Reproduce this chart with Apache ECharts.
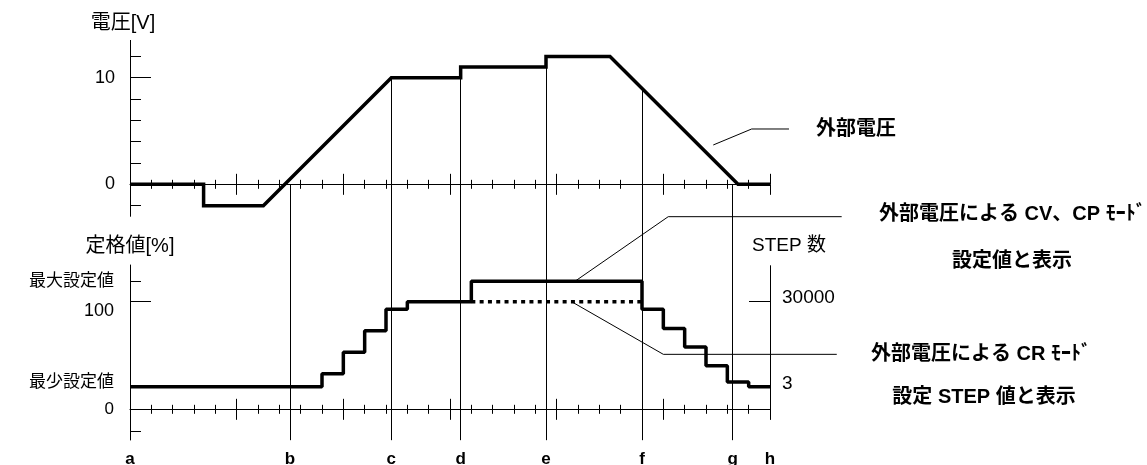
<!DOCTYPE html>
<html>
<head>
<meta charset="utf-8">
<title>外部電圧と設定値</title>
<script src="https://cdn.jsdelivr.net/npm/echarts@6/dist/echarts.min.js"></script>
<style>
  html, body { margin: 0; padding: 0; background: #fff; }
  #chart { width: 1147px; height: 465px; }
</style>
</head>
<body>
<div id="chart"></div>
<script>
// ---- data (横軸は目盛 1 つ = 1) ----
const xMinorTicks = [1, 2, 3, 4, 6, 7, 8, 9, 11, 12, 13, 14, 16, 17, 18, 19, 21, 22, 23, 24, 26, 27, 28, 29];
const xMajorTicks = [5, 10, 15, 20, 25, 30];

// 外部電圧 [V]
const voltageX = [0, 3.45, 3.45, 6.25, 12.25, 15.5, 15.5, 19.5, 19.5, 22.5, 28.5, 30];
const voltageV = [0, 0, -2, -2, 10, 10, 11, 11, 12, 12, 0, 0];
const voltTickShort = [-2, 2, 4, 6, 8, 12];
const voltTickLong = [10];
const voltLabels = [0, 10];

// 定格値 [%]
const maxSetting = 119;
const minSetting = 21;
const stepX = [0, 9, 10, 11, 12, 13, 16, 24, 25, 26, 27, 28, 29, 30];
const stepPct = [21, 33, 53, 73, 93, 100, 119, 93, 75, 58, 40.5, 25.5, 21, 21];
const crX = [16, 24];
const crPct = [100, 100];
const pctTickShort = [119, -20];
const pctTickLong = [100];
const pctLabelValues = [119, 100, 21, 0];
const pctLabelTexts = ['最大設定値', '100', '最少設定値', '0'];

// STEP 数
const stepTickValues = [30000];
const stepLabelValues = [30000, 3];

// 区間記号
const markerNames = ['a', 'b', 'c', 'd', 'e', 'f', 'g', 'h'];
const markerX = [0, 7.5, 12.25, 15.5, 19.5, 24, 28.25, 30];
const markerTopV = [null, 0, 10, 11, 12, 9, 0, null];

// 引き出し線 (データ座標)
const leaderVolt = [[27.34, 3.69], [29.14, 5.19], [30.89, 5.19]];
const leaderCV = [[20.86, 119], [25.23, 179], [33.36, 179]];
const leaderCR = [[20.7, 100], [25.0, 51.1], [33.13, 51.1]];

// ---- layout ----
const FONT = '"Liberation Sans", "Noto Sans CJK JP", sans-serif';
const refLineBottomV = -24; // 下段グラフの下端まで
const black = { color: '#000', width: 1 };

const chart = echarts.init(document.getElementById('chart'));

function xAxisOf(gridIndex, onZeroY, ticks, inside, len, showLine) {
  return {
    type: 'value', gridIndex: gridIndex, min: 0, max: 30, position: 'bottom',
    axisLine: { show: showLine, onZero: true, onZeroAxisIndex: onZeroY, lineStyle: black },
    axisTick: { show: true, customValues: ticks, inside: inside, length: len, lineStyle: black },
    axisLabel: { show: false },
    splitLine: { show: false }
  };
}

const labelStyle = { color: '#000', fontSize: 17, fontFamily: FONT };
const nameStyle = { color: '#000', fontSize: 20, fontFamily: FONT };
const noteFont = 'bold 20px ' + FONT;

function note(text, x, y, align) {
  return {
    type: 'text', x: x, y: y,
    style: { text: text, fill: '#000', font: noteFont, align: align, verticalAlign: 'middle', textAlign: align, textVerticalAlign: 'middle' }
  };
}

const option = {
  animation: false,
  backgroundColor: '#fff',
  textStyle: { fontFamily: FONT },
  grid: [
    { left: 130, right: 377, top: 40.4, height: 175.9, outerBoundsMode: 'none' },
    { left: 130, right: 377, top: 265, height: 175, outerBoundsMode: 'none' },
    { left: 130, right: 377, top: 265.7, height: 153.3, outerBoundsMode: 'none' }
  ],
  xAxis: [
    xAxisOf(0, 0, xMinorTicks, true, 4.5, true),
    xAxisOf(0, 0, xMinorTicks, false, 4.5, false),
    xAxisOf(0, 0, xMajorTicks, true, 10.5, false),
    xAxisOf(0, 0, xMajorTicks, false, 10.5, false),
    xAxisOf(1, 2, xMinorTicks, true, 4.5, true),
    xAxisOf(1, 2, xMinorTicks, false, 4.5, false),
    xAxisOf(1, 2, xMajorTicks, true, 10.5, false),
    xAxisOf(1, 2, xMajorTicks, false, 10.5, false),
    {
      type: 'value', gridIndex: 1, min: 0, max: 30, position: 'bottom',
      axisLine: { show: false, onZero: false },
      axisTick: { show: false },
      splitLine: { show: false },
      axisLabel: {
        customValues: markerX, margin: 11,
        color: '#000', fontSize: 17, fontWeight: 'bold', fontFamily: FONT,
        formatter: v => markerNames[markerX.indexOf(v)]
      }
    },
    { type: 'value', gridIndex: 2, min: 0, max: 30, show: false }
  ],
  yAxis: [
    {
      type: 'value', gridIndex: 0, position: 'left', min: -3, max: 13.5,
      axisLine: { show: true, onZero: false, lineStyle: black },
      axisTick: { customValues: voltTickShort, inside: true, length: 11, lineStyle: black },
      axisLabel: Object.assign({ customValues: voltLabels, margin: 15 }, labelStyle, { fontSize: 18 }),
      splitLine: { show: false },
      name: '電圧[V]', nameLocation: 'end', nameGap: 7,
      nameTextStyle: Object.assign({ padding: [0, 14, 0, 0] }, nameStyle)
    },
    {
      type: 'value', gridIndex: 0, position: 'left', min: -3, max: 13.5,
      axisLine: { show: false, onZero: false },
      axisTick: { customValues: voltTickLong, inside: true, length: 21, lineStyle: black },
      axisLabel: { show: false }, splitLine: { show: false }
    },
    {
      type: 'value', gridIndex: 1, position: 'left', min: -28.5, max: 134.1,
      axisLine: { show: true, onZero: false, lineStyle: black },
      axisTick: { customValues: pctTickShort, inside: true, length: 11, lineStyle: black },
      axisLabel: Object.assign({
        customValues: pctLabelValues, margin: 16,
        formatter: v => {
          const t = pctLabelTexts[pctLabelValues.indexOf(v)];
          if (v === 100) return '{dn|' + t + '}';
          if (v === minSetting) return '{up|' + t + '}';
          return t;
        },
        rich: {
          dn: { padding: [18, 0, 0, 0], fontSize: 18, color: '#000', fontFamily: FONT },
          up: { padding: [0, 0, 9, 0], fontSize: 17, color: '#000', fontFamily: FONT }
        }
      }, labelStyle),
      splitLine: { show: false },
      name: '定格値[%]', nameLocation: 'end', nameGap: 9,
      nameTextStyle: nameStyle
    },
    {
      type: 'value', gridIndex: 1, position: 'left', min: -28.5, max: 134.1,
      axisLine: { show: false, onZero: false },
      axisTick: { customValues: pctTickLong, inside: true, length: 21, lineStyle: black },
      axisLabel: { show: false }, splitLine: { show: false }
    },
    {
      type: 'value', gridIndex: 2, position: 'right', min: -12754, max: 43122,
      axisLine: { show: true, onZero: false, lineStyle: black },
      axisTick: { customValues: stepTickValues, inside: true, length: 21, lineStyle: black },
      axisLabel: {
        customValues: stepLabelValues, margin: 12, fontSize: 19, color: '#000', fontFamily: FONT,
        formatter: v => (v === 30000 ? '{up|' + v + '}' : String(v)),
        rich: { up: { padding: [0, 0, 7, 0], fontSize: 19, color: '#000', fontFamily: FONT } }
      },
      splitLine: { show: false },
      name: 'STEP 数', nameLocation: 'end', nameGap: 10,
      nameTextStyle: { color: '#000', fontSize: 19, fontFamily: FONT, padding: [0, 0, 0, 38] }
    }
  ],
  series: [
    {
      type: 'lines', coordinateSystem: 'cartesian2d', xAxisIndex: 0, yAxisIndex: 0,
      clip: false, silent: true,
      lineStyle: { color: '#000', width: 1, opacity: 1 },
      data: markerX
        .map((x, i) => ({ x: x, top: markerTopV[i] }))
        .filter(d => d.top !== null)
        .map(d => ({ coords: [[d.x, d.top], [d.x, refLineBottomV]] }))
    },
    {
      type: 'lines', coordinateSystem: 'cartesian2d', xAxisIndex: 0, yAxisIndex: 0,
      polyline: true, clip: false, silent: true,
      lineStyle: { color: '#000', width: 1, opacity: 1 },
      data: [{ coords: leaderVolt }]
    },
    {
      type: 'lines', coordinateSystem: 'cartesian2d', xAxisIndex: 4, yAxisIndex: 2,
      polyline: true, clip: false, silent: true,
      lineStyle: { color: '#000', width: 1, opacity: 1 },
      data: [{ coords: leaderCV }, { coords: leaderCR }]
    },
    {
      name: '外部電圧', type: 'line', xAxisIndex: 0, yAxisIndex: 0,
      symbol: 'none', clip: false,
      lineStyle: { color: '#000', width: 3.5, join: 'miter' },
      data: voltageX.map((x, i) => [x, voltageV[i]])
    },
    {
      name: 'CV, CP', type: 'line', xAxisIndex: 4, yAxisIndex: 2,
      symbol: 'none', step: 'end', clip: false,
      lineStyle: { color: '#000', width: 3.5 },
      data: stepX.map((x, i) => [x, stepPct[i]])
    },
    {
      name: 'CR', type: 'line', xAxisIndex: 4, yAxisIndex: 2,
      symbol: 'none', clip: false,
      lineStyle: { color: '#000', width: 3.5, type: [4, 4.3] },
      data: crX.map((x, i) => [x, crPct[i]])
    }
  ],
  graphic: [
    note('外部電圧', 816, 129, 'left'),
    note('外部電圧による CV、CP ﾓｰﾄﾞ', 879, 214, 'left'),
    note('設定値と表示', 1012, 261, 'center'),
    note('外部電圧による CR ﾓｰﾄﾞ', 871, 354, 'left'),
    note('設定 STEP 値と表示', 984, 397, 'center')
  ]
};

chart.setOption(option);
window.addEventListener('resize', () => {
  chart.resize();
});
</script>
</body>
</html>
